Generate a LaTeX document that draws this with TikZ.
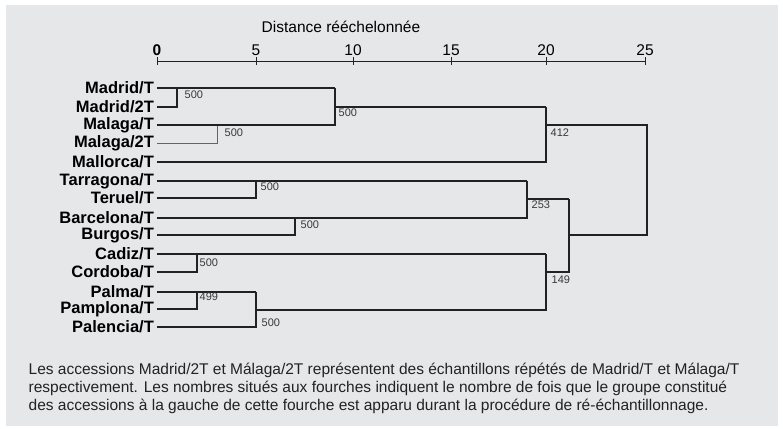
\documentclass[tikz,border=0pt]{standalone}
\usepackage{fontspec}
\setmainfont{Liberation Sans}
\usetikzlibrary{positioning}
\definecolor{fond}{HTML}{E6E7E9}
\definecolor{trait}{HTML}{222222}

\begin{document}
\begin{tikzpicture}
    [x=1pt,y=-1pt,line width=1.3pt,draw=trait,
     feuille/.style={anchor=east,inner sep=2.5pt,font=\fontsize{16.5}{17}\selectfont\bfseries},
     compte/.style={anchor=west,inner sep=0pt,text=trait!90,font=\fontsize{11}{11}\selectfont},
     graduation/.style={inner sep=0pt,font=\fontsize{15.5}{15.5}\selectfont}]
    \useasboundingbox (0,0) rectangle (783,428);
    \fill[fond] (6,5) rectangle (778,426);

    % echelle
    \node[graduation] (titre) at (341,27) {Distance rééchelonnée};
    \coordinate (a0) at (157,61);
    \coordinate (a25) at (645,61);
    \draw[line width=1pt] (a0) -- (a25);
    \foreach \v/\x in {0/157,5/256,10/353,15/451,20/546,25/645}
      \draw[line width=1pt] (\x,57) -- (\x,65)
        node[graduation,above=9pt] {\ifnum\v=0 \textbf{\v}\else\v\fi};

    % feuilles
    \node[feuille] (nmad)  at (157,88)  {Madrid/T};
    \node[feuille] (nmad2) at (157,107) {Madrid/2T};
    \node[feuille] (nmal)  at (157,125) {Malaga/T};
    \node[feuille] (nmal2) at (157,143) {Malaga/2T};
    \node[feuille] (nmll)  at (157,162) {Mallorca/T};
    \node[feuille] (ntar)  at (157,181) {Tarragona/T};
    \node[feuille] (nter)  at (157,198) {Teruel/T};
    \node[feuille] (nbar)  at (157,218) {Barcelona/T};
    \node[feuille] (nbur)  at (157,235) {Burgos/T};
    \node[feuille] (ncad)  at (157,254) {Cadiz/T};
    \node[feuille] (ncor)  at (157,272) {Cordoba/T};
    \node[feuille] (npal)  at (157,292) {Palma/T};
    \node[feuille] (npam)  at (157,309) {Pamplona/T};
    \node[feuille] (nple)  at (157,327) {Palencia/T};

    % fourches
    \coordinate (f1) at (177,88);
    \coordinate (f2) at (217,125);
    \coordinate (f3) at (335,88);
    \coordinate (f3m) at (335,107);
    \coordinate (f4) at (546,107);
    \coordinate (f4m) at (546,125);
    \coordinate (f5) at (256,181);
    \coordinate (f6) at (295,218);
    \coordinate (f7) at (527,181);
    \coordinate (f7m) at (527,199);
    \coordinate (f8) at (197,254);
    \coordinate (f9) at (197,292);
    \coordinate (f10) at (256,292);
    \coordinate (f10m) at (256,310);
    \coordinate (f11) at (546,254);
    \coordinate (f11m) at (546,272);
    \coordinate (f12) at (569,199);
    \coordinate (f12m) at (569,235);
    \coordinate (f13) at (647,235);

    \draw (nmad2.east) -| (f1);
    \draw (nmad.east) -- (f3);
    \draw[line width=0.8pt,draw=trait!70] (nmal2.east) -| (f2);
    \draw (nmal.east) -| (f3);
    \draw (f3m) -- (f4);
    \draw (nmll.east) -| (f4);
    \draw (nter.east) -| (f5);
    \draw (ntar.east) -- (f7);
    \draw (nbur.east) -| (f6);
    \draw (nbar.east) -| (f7);
    \draw (f7m) -- (f12);
    \draw (ncor.east) -| (f8);
    \draw (ncad.east) -- (f11);
    \draw (npam.east) -| (f9);
    \draw (npal.east) -- (f10);
    \draw (nple.east) -| (f10);
    \draw (f10m) -| (f11);
    \draw (f11m) -| (f12);
    \draw (f4m) -| (f13) -- (f12m);

    % nombres aux fourches
    \node[compte] (c1) at (184,95) {500};
    \node[compte] (c2) at (224,133) {500};
    \node[compte] (c3) at (338,113) {500};
    \node[compte] (c4) at (550,133) {412};
    \node[compte] (c5) at (260,187) {500};
    \node[compte] (c6) at (300,225) {500};
    \node[compte] (c7) at (531,205) {253};
    \node[compte] (c8) at (199,263) {500};
    \node[compte] (c9) at (199,297) {499};
    \node[compte] (c10) at (261,323) {500};
    \node[compte] (c11) at (551,280) {149};

    % legende
    \node[anchor=north west,inner sep=0pt,align=left,text=trait,
          font=\fontsize{15.5}{18}\selectfont] (leg) at (28,362)
      {Les accessions Madrid/2T et Málaga/2T représentent des échantillons répétés de Madrid/T et Málaga/T\\
       respectivement. Les nombres situés aux fourches indiquent le nombre de fois que le groupe constitué\\
       des accessions à la gauche de cette fourche est apparu durant la procédure de ré-échantillonnage.};
  \end{tikzpicture}
\end{document}
